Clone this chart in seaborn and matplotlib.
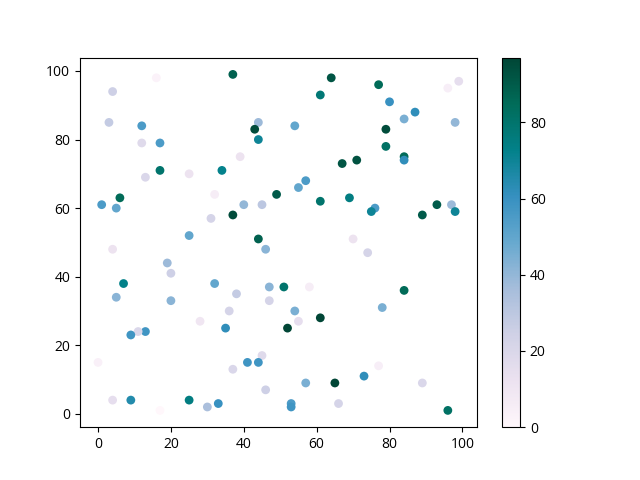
import numpy as np
import pandas as pd
import matplotlib
matplotlib.use("Agg")
import matplotlib.pyplot as plt
import seaborn as sns


# ======================
# DATA
# ======================

x_vals = [37, 64, 16, 77, 99, 96, 4, 61, 80, 87,
          84, 3, 44, 98, 12, 54, 43, 79, 17, 12,
          44, 79, 39, 84, 84, 71, 67, 34, 17, 25,
          13, 55, 57, 49, 32, 6, 69, 1, 40, 45,
          93, 97, 5, 76, 75, 98, 89, 37, 31, 61,
          25, 44, 70, 46, 4, 74, 19, 20, 7, 32,
          47, 51, 58, 84, 5, 20, 47, 38, 78, 36,
          54, 55, 28, 61, 52, 35, 13, 11, 9, 45,
          0, 41, 44, 37, 77, 73, 65, 57, 89, 46,
          4, 9, 25, 33, 53, 53, 66, 30, 17, 96]

y_vals = [99, 98, 98, 96, 97, 95, 94, 93, 91, 88,
          86, 85, 85, 85, 84, 84, 83, 83, 79, 79,
          80, 78, 75, 75, 74, 74, 73, 71, 71, 70,
          69, 66, 68, 64, 64, 63, 63, 61, 61, 61,
          61, 61, 60, 60, 59, 59, 58, 58, 57, 62,
          52, 51, 51, 48, 48, 47, 44, 41, 38, 38,
          37, 37, 37, 36, 34, 33, 33, 35, 31, 30,
          30, 27, 27, 28, 25, 25, 24, 24, 23, 17,
          15, 15, 15, 13, 14, 11, 9, 9, 9, 7,
          4, 4, 4, 3, 3, 2, 3, 2, 1, 1]

color_vals = [88, 92, 3, 85, 15, 5, 25, 78, 60, 62,
              45, 28, 38, 40, 55, 50, 95, 95, 55, 18,
              70, 82, 12, 85, 62, 93, 92, 72, 80, 12,
              20, 50, 55, 90, 6, 85, 75, 55, 40, 30,
              90, 38, 50, 55, 70, 70, 90, 95, 22, 80,
              50, 88, 12, 42, 12, 22, 38, 25, 73, 50,
              42, 80, 6, 85, 42, 42, 22, 28, 45, 22,
              45, 15, 10, 97, 97, 62, 58, 20, 58, 18,
              4, 58, 58, 20, 5, 62, 97, 45, 20, 25,
              15, 65, 75, 60, 55, 58, 22, 35, 0, 82]


# ======================
# PLOT
# ======================

plt.rcParams["font.family"] = ["Open Sans", "DejaVu Sans"]

df = pd.DataFrame({"x": x_vals, "y": y_vals, "c": color_vals})
vmin, vmax = df["c"].min(), df["c"].max()

fig, ax = plt.subplots(figsize=(6.4, 4.8), dpi=100)

sns.scatterplot(
    data=df,
    x="x",
    y="y",
    hue="c",
    palette="PuBuGn",
    hue_norm=(vmin, vmax),
    s=40,
    linewidth=0,
    legend=False,
    ax=ax
)

ax.set_xlabel("")
ax.set_ylabel("")

sm = plt.cm.ScalarMappable(
    cmap="PuBuGn",
    norm=plt.Normalize(vmin, vmax)
)
fig.colorbar(sm, ax=ax)

plt.savefig("out.png")
